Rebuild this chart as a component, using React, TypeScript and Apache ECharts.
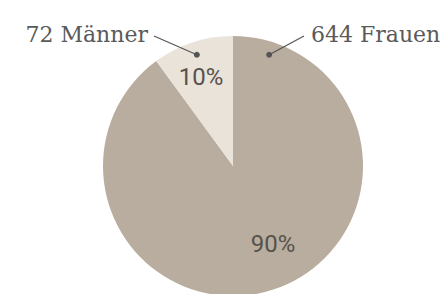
import React, { useEffect, useRef } from "react";
import * as echarts from "echarts";

const categories = ["Frauen", "Männer"];
const counts = [644, 72];
const colors = ["#b8ad9e", "#e9e3da"];

const CX = 233;
const CY = 166;
const R = 130;

export default function App() {
  const ref = useRef<HTMLDivElement>(null);
  useEffect(() => {
    document.body.style.margin = "0";
    const chart = echarts.init(ref.current!, undefined, { renderer: "svg" });
    const font = "'DejaVu Serif', serif";
    const dotAngles = [18, -18];
    const dotR = 117;
    const dots = dotAngles.map((a) => {
      const rad = (a * Math.PI) / 180;
      return [CX + dotR * Math.sin(rad), CY - dotR * Math.cos(rad)];
    });
    const lineEnds = [
      [304, 36],
      [154, 36],
    ];
    chart.setOption({
      animation: false,
      series: [
        {
          type: "pie",
          center: [CX, CY],
          radius: [0, R],
          startAngle: 90,
          clockwise: true,
          silent: true,
          data: categories.map((c, i) => ({
            name: c,
            value: counts[i],
            itemStyle: { color: colors[i] },
          })),
          label: {
            show: true,
            position: "inside",
            formatter: (p: any) => Math.round(p.percent) + "%",
            fontFamily: "Roboto, sans-serif",
            fontWeight: "normal",
            fontSize: 24,
            color: "#57524b",
          },
          labelLayout: (p: any) => {
            if (p.dataIndex === 0) return { x: 273, y: 244 };
            return { x: 201, y: 77 };
          },
          labelLine: { show: false },
        },
        {
          type: "pie",
          center: [CX, CY],
          radius: [0, R],
          startAngle: 90,
          silent: true,
          itemStyle: { color: "transparent" },
          data: categories.map((c, i) => ({ name: c, value: counts[i] })),
          label: {
            show: true,
            position: "outside",
            formatter: (p: any) => counts[p.dataIndex] + " " + p.name,
            fontFamily: font,
            fontSize: 22,
            color: "#5a5a5a",
            overflow: "none",
            width: 200,
          },
          labelLine: { show: false },
          labelLayout: (p: any) => {
            const i = p.dataIndex;
            return i === 0
              ? { x: 311, y: 34, align: "left", verticalAlign: "middle" }
              : { x: 148, y: 34, align: "right", verticalAlign: "middle" };
          },
        },
      ],
      graphic: [
        ...dots.map((d, i) => ({
          type: "line",
          shape: { x1: d[0], y1: d[1], x2: lineEnds[i][0], y2: lineEnds[i][1] },
          style: { stroke: "#555", lineWidth: 1.2 },
          z: 100,
        })),
        ...dots.map((d) => ({
          type: "circle",
          shape: { cx: d[0], cy: d[1], r: 3 },
          style: { fill: "#555" },
          z: 100,
        })),
      ],
    });
    return () => chart.dispose();
  }, []);
  return <div ref={ref} style={{ width: 444, height: 294 }} />;
}
